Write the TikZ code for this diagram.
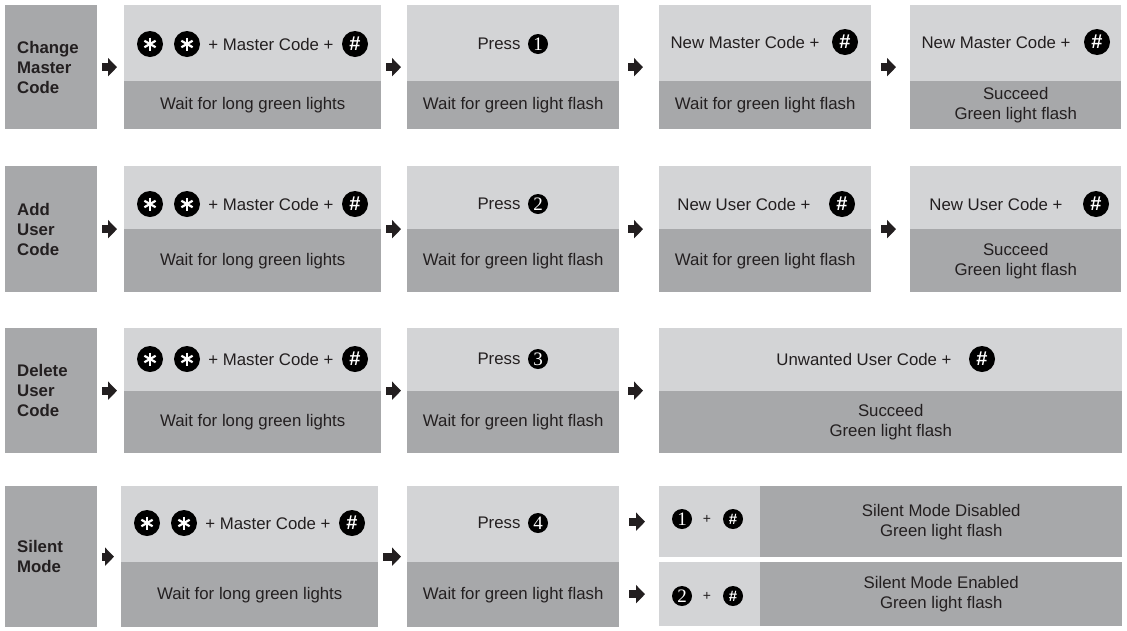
\documentclass[tikz,border=0pt]{standalone}
\usepackage{fontspec}
\setmainfont{Liberation Sans}
\newfontfamily\numfont{Liberation Serif}
\usetikzlibrary{arrows.meta}

\definecolor{panelhi}{RGB}{211,212,214}
\definecolor{panello}{RGB}{167,168,170}
\definecolor{ink}{RGB}{35,31,32}

\tikzset{
  hi/.style={fill=panelhi, anchor=north west, inner sep=0pt},
  lo/.style={fill=panello, anchor=north west, inner sep=0pt, text=ink, align=center},
  head/.style={fill=panello, anchor=north west, inner sep=0pt, inner xsep=12pt,
    align=left, text=ink, font=\fontsize{16.8}{20}\selectfont\bfseries},
  lbl/.style={inner sep=0pt, text=ink},
  key/.style={circle, fill=black, inner sep=0pt, minimum size=26pt, text=white,
    font=\fontsize{20}{20}\selectfont\bfseries},
  smallkey/.style={key, minimum size=20pt, font=\fontsize{15}{15}\selectfont\bfseries},
  star/.style={key, path picture={
    \foreach \a in {90,30,150}
      \draw[white, line width=2.2pt] (path picture bounding box.center) ++(\a:6.5pt) -- ++(\a+180:13pt);
  }},
  num/.style={circle, fill=black, inner sep=0pt, minimum size=20pt, text=white,
    font=\numfont\fontsize{19}{19}\selectfont},
  go/.style={ink, line width=8pt, -{Triangle[length=9pt,width=18pt]}}
}

\begin{document}
\begin{tikzpicture}[x=1pt,y=-1pt,font=\fontsize{16.8}{20}\selectfont]
\useasboundingbox (0,0) rectangle (1127,630);

% row titles
\node[head, minimum width=92, minimum height=124, text width=68] (L1) at (5,5) {Change\\Master\\Code};
\node[head, minimum width=92, minimum height=126, text width=68] (L2) at (5,166) {Add\\User\\Code};
\node[head, minimum width=92, minimum height=125, text width=68] (L3) at (5,328) {Delete\\User\\Code};
\node[head, minimum width=92, minimum height=141, text width=68] (L4) at (5,486) {Silent\\Mode};

% first two steps, the same in every row
\foreach \r/\y/\t/\b/\x/\i in {1/5/76/48/124/44, 2/166/63/63/124/204, 3/328/63/62/124/359, 4/486/76/65/121/523}{
  \node[hi, minimum width=257, minimum height=\t] (mc\r) at (\x,\y) {};
  \node[lo, minimum width=257, minimum height=\b] (wl\r) at (\x,\y+\t) {Wait for long green lights};
  \node[star] (sa\r) at (\x+26,\i) {};
  \node[star] (sb\r) at (\x+63,\i) {};
  \node[lbl] (mt\r) at (\x+147,\i) {+ Master Code +};
  \node[key] (ha\r) at (\x+231,\i) {\#};
  \node[hi, minimum width=212, minimum height=\t] (pr\r) at (407,\y) {};
  \node[lo, minimum width=212, minimum height=\b] (wf\r) at (407,\y+\t) {Wait for green light flash};
  \node[lbl] (pt\r) at (499,\i) {Press};
  \node[num] (pn\r) at (538,\i) {\r};
  \draw[go] ([xshift=5]L\r.east) -- ([xshift=-7]mc\r.west |- L\r.east);
  \draw[go] ([xshift=5]mc\r.east |- L\r.east) -- ([xshift=-6]pr\r.west |- L\r.east);
}

% change master code
\node[hi, minimum width=212, minimum height=76] (nm1) at (659,5) {};
\node[lo, minimum width=212, minimum height=48] (gw1) at (659,81) {Wait for green light flash};
\node[lbl] (nt1) at (745,42) {New Master Code +};
\node[key] (nh1) at (845,42) {\#};
\node[hi, minimum width=211, minimum height=76] (rm1) at (910,5) {};
\node[lo, minimum width=211, minimum height=48] (ok1) at (910,81) {Succeed\\Green light flash};
\node[lbl] (rt1) at (996,42) {New Master Code +};
\node[key] (rh1) at (1097,42) {\#};
\draw[go] ([xshift=9]pr1.east |- L1.east) -- ([xshift=-16]nm1.west |- L1.east);
\draw[go] ([xshift=10]nm1.east |- L1.east) -- ([xshift=-14]rm1.west |- L1.east);

% add user code
\node[hi, minimum width=212, minimum height=63] (nm2) at (659,166) {};
\node[lo, minimum width=212, minimum height=63] (gw2) at (659,229) {Wait for green light flash};
\node[lbl] (nt2) at (744,204) {New User Code +};
\node[key] (nh2) at (842,204) {\#};
\node[hi, minimum width=211, minimum height=63] (rm2) at (910,166) {};
\node[lo, minimum width=211, minimum height=63] (ok2) at (910,229) {Succeed\\Green light flash};
\node[lbl] (rt2) at (996,204) {New User Code +};
\node[key] (rh2) at (1096,204) {\#};
\draw[go] ([xshift=9]pr2.east |- L2.east) -- ([xshift=-16]nm2.west |- L2.east);
\draw[go] ([xshift=10]nm2.east |- L2.east) -- ([xshift=-14]rm2.west |- L2.east);

% delete user code
\node[hi, minimum width=463, minimum height=63] (uw3) at (659,328) {};
\node[lo, minimum width=463, minimum height=62] (ok3) at (659,391) {Succeed\\Green light flash};
\node[lbl] (ut3) at (864,359) {Unwanted User Code +};
\node[key] (uh3) at (982,359) {\#};
\draw[go] ([xshift=9]pr3.east |- L3.east) -- ([xshift=-16]uw3.west |- L3.east);

% silent mode
\node[hi, minimum width=101, minimum height=71] (so1) at (659,486) {};
\node[lo, minimum width=362, minimum height=71] (sd1) at (760,486) {Silent Mode Disabled\\Green light flash};
\node[hi, minimum width=101, minimum height=64] (so2) at (659,562) {};
\node[lo, minimum width=362, minimum height=64] (sd2) at (760,562) {Silent Mode Enabled\\Green light flash};
\foreach \k/\v in {1/519, 2/596}{
  \node[num] (sn\k) at (682,\v) {\k};
  \node[lbl, font=\fontsize{14}{14}\selectfont] (sp\k) at (707,\v) {+};
  \node[smallkey] (sh\k) at (733,\v) {\#};
  \draw[go] ([xshift=10]pr4.east |- so\k.west) -- ([xshift=-14]so\k.west);
}
\end{tikzpicture}
\end{document}
